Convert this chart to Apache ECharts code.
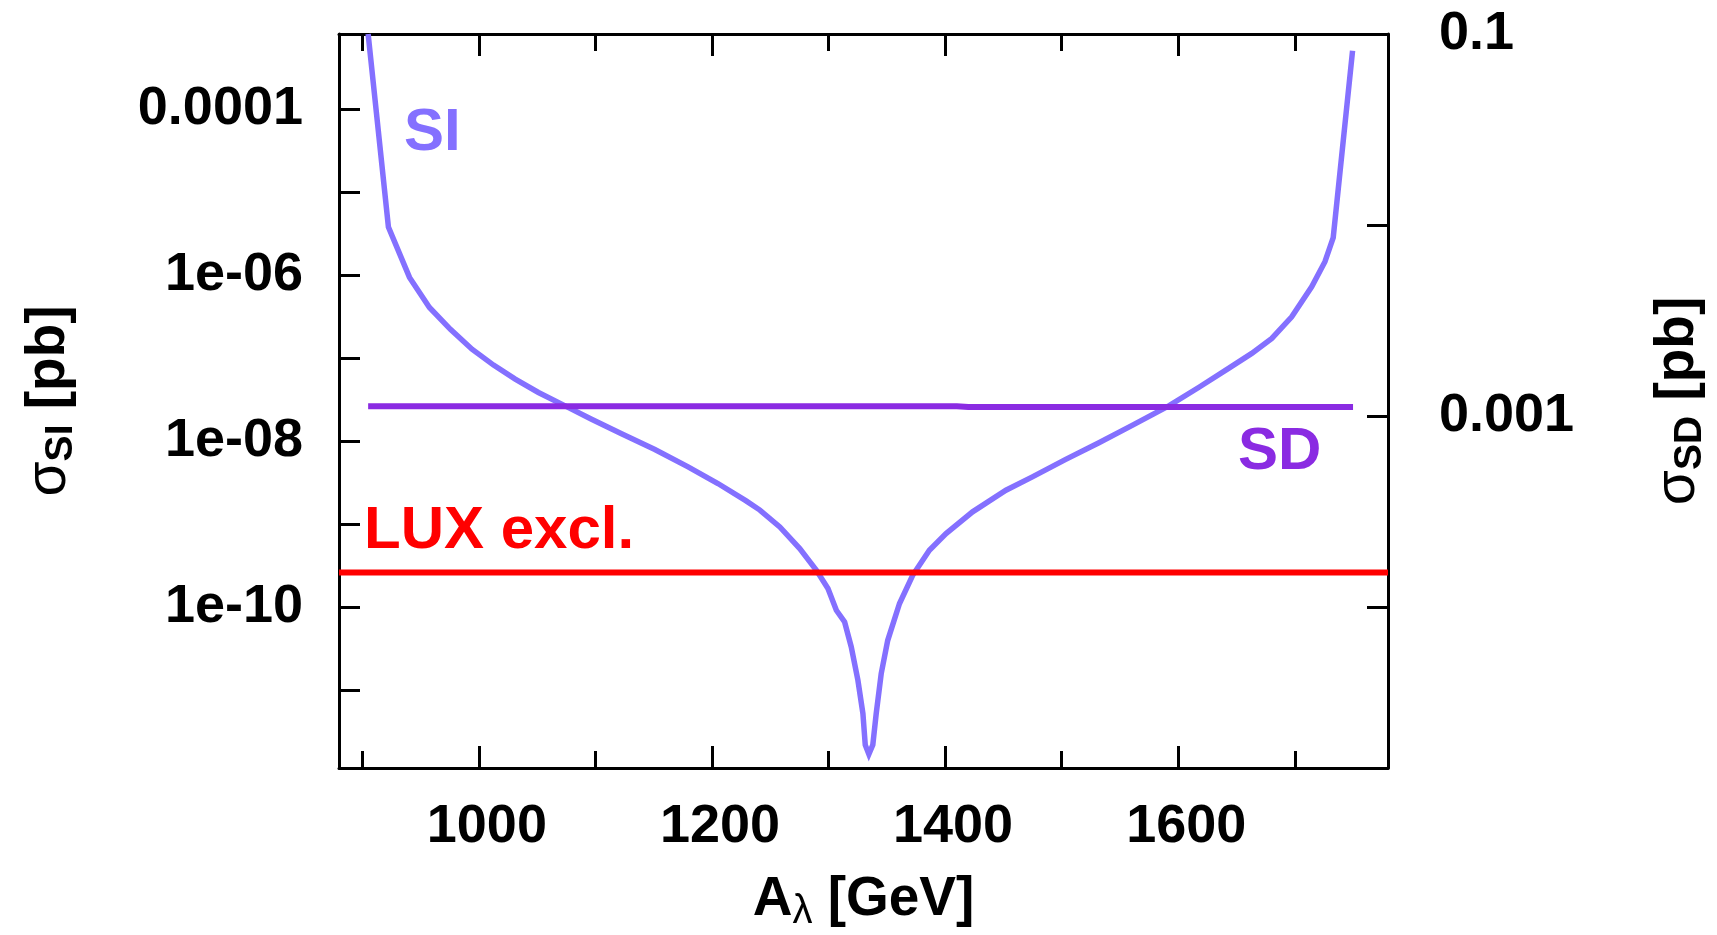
<!DOCTYPE html>
<html>
<head>
<meta charset="utf-8">
<script src="https://cdn.jsdelivr.net/npm/echarts@6/dist/echarts.min.js"></script>
<style>
html,body{margin:0;padding:0;background:#fff;}
#c{width:1717px;height:935px;}
</style>
</head>
<body>
<div id="c"></div>
<script>
// ---- data ----
const siX = [905, 922.4, 940.5, 957.6, 975.6, 994.1, 1012.6, 1031.2, 1051.1, 1074.0, 1096.7, 1122.4, 1151.0, 1179.5, 1205.1, 1229.3, 1241.1, 1258.2, 1275.3, 1289.6, 1299.5, 1306.7, 1313.8, 1319.5, 1325.2, 1329.5, 1331.5, 1334.6, 1338.0, 1340.9, 1345.2, 1350.8, 1360.9, 1372.2, 1386.5, 1400.8, 1423.6, 1452.2, 1474.9, 1503.5, 1532.0, 1560.5, 1591.9, 1617.5, 1643.2, 1663.1, 1680.3, 1697.4, 1714.5, 1725.9, 1733.0, 1749.6];
const siY = [8.0e-4, 3.78e-6, 9.37e-7, 4.08e-7, 2.22e-7, 1.28e-7, 8.24e-8, 5.58e-8, 3.86e-8, 2.66e-8, 1.84e-8, 1.23e-8, 7.94e-9, 4.90e-9, 3.09e-9, 1.91e-9, 1.48e-9, 9.27e-10, 5.09e-10, 2.79e-10, 1.68e-10, 9.2e-11, 6.66e-11, 3.33e-11, 1.32e-11, 5.24e-12, 2.2e-12, 1.7e-12, 2.2e-12, 5.24e-12, 1.59e-11, 4.0e-11, 1.11e-10, 2.43e-10, 4.86e-10, 7.73e-10, 1.41e-9, 2.57e-9, 3.72e-9, 6.03e-9, 9.55e-9, 1.55e-8, 2.66e-8, 4.43e-8, 7.52e-8, 1.14e-7, 1.73e-7, 3.15e-7, 7.23e-7, 1.45e-6, 2.83e-6, 5.04e-4];

const sdX = [905, 1000, 1100, 1200, 1300, 1410, 1420, 1500, 1600, 1700, 1750];
const sdY = [1.128e-3, 1.128e-3, 1.128e-3, 1.128e-3, 1.128e-3, 1.128e-3, 1.119e-3, 1.119e-3, 1.119e-3, 1.119e-3, 1.119e-3];

const luxX = [880, 1780];
const luxY = [2.62e-10, 2.62e-10];

// axes
const xRange = [880, 1780];
const xMajorTicks = [1000, 1200, 1400, 1600];
const xMinorTicks = [900, 1100, 1300, 1500, 1700];
const yLeftRange = [1.16e-12, 8.0e-4];
const yLeftTicks = [1e-11, 1e-10, 1e-9, 1e-8, 1e-7, 1e-6, 1e-5, 1e-4];
const yLeftLabelValues = [1e-10, 1e-8, 1e-6, 1e-4];
const yLeftLabelTexts = ['1e-10', '1e-08', '1e-06', '0.0001'];
const yRightRange = [1.445e-5, 0.1];
const yRightTicks = [1e-4, 1e-3, 1e-2, 1e-1];
const yRightLabelValues = [1e-3, 1e-1];
const yRightLabelTexts = ['0.001', '0.1'];

// ---- chart ----
const FONT = '"Liberation Sans", Arial, Helvetica, sans-serif';
const zip = (xs, ys) => xs.map((x, i) => [x, ys[i]]);
const lookup = (vals, texts) => (v) => {
  for (let i = 0; i < vals.length; i++) {
    if (Math.abs(Math.log10(v) - Math.log10(vals[i])) < 0.01) return texts[i];
  }
  return '';
};

const tickLabel = {fontSize: 54, fontWeight: 'bold', fontFamily: FONT, color: '#000'};
const nameRich = {
  a: {fontSize: 55, fontWeight: 'bold', fontFamily: FONT, color: '#000', lineHeight: 60, verticalAlign: 'top'},
  g: {fontSize: 57, fontWeight: 'normal', fontFamily: FONT, color: '#000', lineHeight: 60, verticalAlign: 'top'},
  s: {fontSize: 39, fontWeight: 'bold', fontFamily: FONT, color: '#000', lineHeight: 39, verticalAlign: 'bottom', padding: [30, 0, 0, 0]},
  sg: {fontSize: 40, fontWeight: 'normal', fontFamily: FONT, color: '#000', lineHeight: 40, verticalAlign: 'bottom', padding: [30, 0, 0, 0]}
};
const black = {color: '#000', width: 3};

function xAxisDef(position, ticks, len, withLine, withLabel) {
  return {
    type: 'value', position: position, min: xRange[0], max: xRange[1],
    splitLine: {show: false},
    axisLine: {show: withLine, lineStyle: black},
    axisTick: {show: true, inside: true, length: len, lineStyle: black, customValues: ticks},
    axisLabel: withLabel
      ? Object.assign({show: true, customValues: ticks, margin: 32, padding: [0, 0, 0, 16],
          formatter: (v) => String(v)}, tickLabel)
      : {show: false}
  };
}

const xAxes = [
  Object.assign(xAxisDef('bottom', xMajorTicks, 22, true, true), {
    name: '{a|A}{sg|λ}{a| [GeV]}', nameLocation: 'middle', nameGap: 104,
    nameTextStyle: {rich: nameRich}
  }),
  xAxisDef('bottom', xMinorTicks, 17, false, false),
  xAxisDef('top', xMajorTicks, 22, true, false),
  xAxisDef('top', xMinorTicks, 17, false, false)
];

const yAxes = [
  {
    type: 'log', logBase: 10, position: 'left', min: yLeftRange[0], max: yLeftRange[1],
    splitLine: {show: false},
    axisLine: {show: true, lineStyle: black},
    axisTick: {show: true, inside: true, length: 21, lineStyle: black, customValues: yLeftTicks},
    axisLabel: Object.assign({show: true, customValues: yLeftLabelValues, margin: 36,
      formatter: lookup(yLeftLabelValues, yLeftLabelTexts)}, tickLabel),
    name: '{g|σ}{s|SI}{a| [pb]}', nameLocation: 'middle', nameRotate: 90, nameGap: 258,
    nameTextStyle: {rich: nameRich}
  },
  {
    type: 'log', logBase: 10, position: 'right', min: yRightRange[0], max: yRightRange[1],
    splitLine: {show: false},
    axisLine: {show: true, lineStyle: black},
    axisTick: {show: true, inside: true, length: 21, lineStyle: black, customValues: yRightTicks},
    axisLabel: Object.assign({show: true, customValues: yRightLabelValues, margin: 51,
      formatter: lookup(yRightLabelValues, yRightLabelTexts)}, tickLabel),
    name: '{g|σ}{s|SD}{a| [pb]}', nameLocation: 'middle', nameRotate: 90, nameGap: 262,
    nameTextStyle: {rich: nameRich}
  }
];

const option = {
  animation: false,
  backgroundColor: '#fff',
  grid: {left: 339, right: 329, top: 34, bottom: 167, containLabel: false, outerBoundsMode: 'none'},
  xAxis: xAxes,
  yAxis: yAxes,
  series: [
    {name: 'SI', type: 'line', xAxisIndex: 0, yAxisIndex: 0, data: zip(siX, siY),
      symbol: 'none', clip: true, lineStyle: {color: '#8470ff', width: 5.5, join: 'miter'}, z: 2},
    {name: 'SD', type: 'line', xAxisIndex: 0, yAxisIndex: 1, data: zip(sdX, sdY),
      symbol: 'none', clip: true, lineStyle: {color: '#8a2be2', width: 6}, z: 3},
    {name: 'LUX excl.', type: 'line', xAxisIndex: 0, yAxisIndex: 0, data: zip(luxX, luxY),
      symbol: 'none', clip: true, lineStyle: {color: '#ff0000', width: 6}, z: 4}
  ],
  graphic: [
    {type: 'text', x: 404, y: 133, z: 10, style: {text: 'SI', font: 'bold 60px ' + FONT, fill: '#8470ff', align: 'left', verticalAlign: 'middle'}},
    {type: 'text', x: 1238, y: 452, z: 10, style: {text: 'SD', font: 'bold 60px ' + FONT, fill: '#8a2be2', align: 'left', verticalAlign: 'middle'}},
    {type: 'text', x: 364, y: 531, z: 10, style: {text: 'LUX excl.', font: 'bold 60px ' + FONT, fill: '#ff0000', align: 'left', verticalAlign: 'middle'}}
  ]
};

const chart = echarts.init(document.getElementById('c'), null, {renderer: 'canvas'});
chart.setOption(option);
</script>
</body>
</html>
